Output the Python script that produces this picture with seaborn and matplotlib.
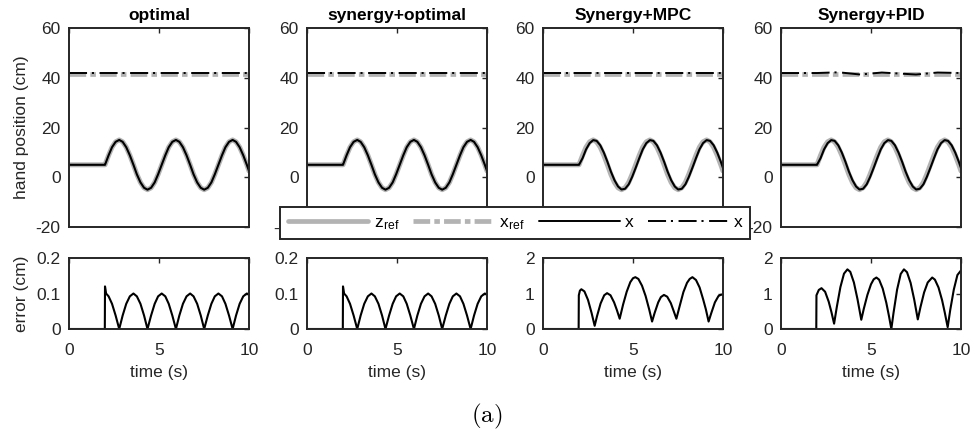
import matplotlib
matplotlib.use("Agg")
import matplotlib.pyplot as plt
from matplotlib.lines import Line2D
import seaborn as sns

# ---- data -------------------------------------------------------------
titles = ["optimal", "synergy+optimal", "Synergy+MPC", "Synergy+PID"]

# time samples for the hand-position traces (s)
t_pos = [0.0, 1.99, 2.00, 2.20, 2.39, 2.59, 2.79, 2.98, 3.18, 3.38, 3.58,
         3.77, 3.97, 4.17, 4.36, 4.56, 4.76, 4.95, 5.15, 5.35, 5.54, 5.74,
         5.94, 6.13, 6.33, 6.53, 6.73, 6.92, 7.12, 7.32, 7.51, 7.71, 7.91,
         8.10, 8.30, 8.50, 8.69, 8.89, 9.09, 9.28, 9.48, 9.68, 9.88, 10.0]

# reference trajectory along z (cm)
z_ref = [5.0, 5.0, 5.0, 8.83, 12.07, 14.24, 15.0, 14.24, 12.07, 8.83, 5.0,
         1.17, -2.07, -4.24, -5.0, -4.24, -2.07, 1.17, 5.0, 8.83, 12.07,
         14.24, 15.0, 14.24, 12.07, 8.83, 5.0, 1.17, -2.07, -4.24, -5.0,
         -4.24, -2.07, 1.17, 5.0, 8.83, 12.07, 14.24, 15.0, 14.24, 12.07,
         8.83, 5.0, 2.53]

# tracked hand position for the lagging controllers (cm)
x_lagged = [5.0, 5.0, 5.0, 7.69, 11.17, 13.71, 14.93, 14.63, 12.87, 9.91,
            6.2, 2.31, -1.17, -3.71, -4.93, -4.63, -2.87, 0.09, 3.8, 7.69,
            11.17, 13.71, 14.93, 14.63, 12.87, 9.91, 6.2, 2.31, -1.17, -3.71,
            -4.93, -4.63, -2.87, 0.09, 3.8, 7.69, 11.17, 13.71, 14.93, 14.63,
            12.87, 9.91, 6.2, 3.71]

# lateral reference and lateral hand position (cm)
x_ref_level = 41.5
t_lat = [0.0, 2.0, 3.2, 4.4, 5.6, 7.5, 8.7, 10.0]
x_lat_const = [41.9, 41.9, 41.9, 41.9, 41.9, 41.9, 41.9, 41.9]
x_lat_pid = [41.9, 41.9, 42.2, 41.3, 42.1, 41.3, 42.1, 41.9]

# tracking error, optimal controllers (cm)
t_err_opt = [0.0, 1.99, 2.00, 2.06, 2.20, 2.39, 2.59, 2.79, 2.98, 3.18, 3.38,
             3.58, 3.77, 3.97, 4.17, 4.36, 4.56, 4.76, 4.95, 5.15, 5.35,
             5.54, 5.74, 5.94, 6.13, 6.33, 6.53, 6.73, 6.92, 7.12, 7.32,
             7.51, 7.71, 7.91, 8.10, 8.30, 8.50, 8.69, 8.89, 9.09, 9.28,
             9.48, 9.68, 9.88, 10.0]
err_opt = [0.0, 0.0, 0.12, 0.1, 0.092, 0.071, 0.038, 0.0, 0.038, 0.071,
           0.092, 0.1, 0.092, 0.071, 0.038, 0.0, 0.038, 0.071, 0.092, 0.1,
           0.092, 0.071, 0.038, 0.0, 0.038, 0.071, 0.092, 0.1, 0.092, 0.071,
           0.038, 0.0, 0.038, 0.071, 0.092, 0.1, 0.092, 0.071, 0.038, 0.0,
           0.038, 0.071, 0.092, 0.1, 0.097]

# tracking error, MPC (cm)
t_err_mpc = [0.0, 1.98, 1.99, 2.05, 2.13, 2.3, 2.5, 2.7, 2.87, 3.0, 3.2, 3.4,
             3.56, 3.75, 3.95, 4.1, 4.26, 4.45, 4.65, 4.85, 5.0, 5.13, 5.3,
             5.5, 5.7, 5.9, 6.06, 6.2, 6.4, 6.55, 6.72, 6.9, 7.1, 7.25, 7.41,
             7.6, 7.8, 8.0, 8.15, 8.3, 8.5, 8.7, 8.9, 9.05, 9.2, 9.35, 9.55,
             9.75, 9.9, 10.0]
err_mpc = [0.0, 0.0, 0.95, 1.08, 1.12, 1.06, 0.82, 0.45, 0.09, 0.36, 0.72,
           0.95, 1.01, 0.95, 0.75, 0.54, 0.29, 0.69, 1.05, 1.32, 1.43, 1.46,
           1.41, 1.22, 0.93, 0.55, 0.21, 0.45, 0.75, 0.9, 0.96, 0.91, 0.73,
           0.52, 0.29, 0.66, 1.04, 1.30, 1.41, 1.46, 1.38, 1.17, 0.83, 0.55,
           0.21, 0.45, 0.75, 0.93, 0.97, 0.96]

# tracking error, PID (cm)
t_err_pid = [0.0, 1.96, 1.97, 2.1, 2.25, 2.45, 2.65, 2.8, 2.95, 3.1, 3.3, 3.5,
             3.69, 3.85, 4.05, 4.25, 4.46, 4.6, 4.8, 5.0, 5.15, 5.3, 5.45,
             5.65, 5.85, 6.0, 6.13, 6.25, 6.45, 6.65, 6.83, 7.0, 7.2, 7.4,
             7.6, 7.75, 7.95, 8.15, 8.4, 8.55, 8.75, 8.95, 9.1, 9.26, 9.4,
             9.6, 9.8, 10.0]
err_pid = [0.0, 0.0, 0.95, 1.1, 1.15, 1.05, 0.77, 0.48, 0.15, 0.62, 1.18,
           1.56, 1.68, 1.61, 1.31, 0.84, 0.26, 0.57, 0.96, 1.26, 1.40, 1.45,
           1.39, 1.14, 0.74, 0.36, 0.0, 0.45, 1.11, 1.55, 1.68, 1.6, 1.30,
           0.83, 0.27, 0.62, 1.03, 1.31, 1.45, 1.39, 1.17, 0.81, 0.46, 0.05,
           0.53, 1.11, 1.52, 1.65]

pos_tracked = [z_ref, z_ref, x_lagged, x_lagged]
lat_tracked = [x_lat_const, x_lat_const, x_lat_const, x_lat_pid]
err_series = [(t_err_opt, err_opt), (t_err_opt, err_opt),
              (t_err_mpc, err_mpc), (t_err_pid, err_pid)]
err_ylims = [(0, 0.2), (0, 0.2), (0, 2), (0, 2)]
err_ticks = [[0, 0.1, 0.2], [0, 0.1, 0.2], [0, 1, 2], [0, 1, 2]]
err_ticklabels = [["0", "0.1", "0.2"], ["0", "0.1", "0.2"],
                  ["0", "1", "2"], ["0", "1", "2"]]
pos_ticks = [-20, 0, 20, 40, 60]
time_ticks = [0, 5, 10]
legend_labels = [r"z$_{\mathregular{ref}}$", r"x$_{\mathregular{ref}}$", "x", "x"]

# ---- style ------------------------------------------------------------
sns.set_theme(style="white")
plt.rcParams["font.family"] = ["Liberation Sans", "DejaVu Sans"]
plt.rcParams["mathtext.fontset"] = "cm"
plt.rcParams["lines.scale_dashes"] = False

GRAY = "#b3b3b3"
INK = "#262626"
FS = 12.5
W, H = 974, 447
fig = plt.figure(figsize=(W / 100, H / 100), dpi=100)

lefts = [69, 307, 543, 781]
ax_w = 180
top_box = (28, 227)
err_box = (258, 329)

DASHDOT_GRAY = (0, (12, 3, 4, 3))
DASHDOT_BLACK = (0, (13, 3.5, 1.5, 4))


def frame(ax):
    for s in ax.spines.values():
        s.set_linewidth(1.4)
        s.set_color(INK)
    ax.tick_params(direction="in", length=3.5, width=1.0, top=True,
                   right=True, labelsize=FS, colors=INK)
    ax.tick_params(axis="y", pad=6)
    ax.tick_params(axis="x", pad=10)


for i in range(4):
    x0 = lefts[i] / W
    w = ax_w / W
    ax = fig.add_axes([x0, 1 - top_box[1] / H, w, (top_box[1] - top_box[0]) / H])
    ax2 = fig.add_axes([x0, 1 - err_box[1] / H, w, (err_box[1] - err_box[0]) / H])

    # lateral reference and lateral hand position
    sns.lineplot(x=[0, 10], y=[x_ref_level, x_ref_level], ax=ax, color=GRAY,
                 lw=3.4, estimator=None, sort=False)
    ax.lines[-1].set_linestyle(DASHDOT_GRAY)
    sns.lineplot(x=t_lat, y=lat_tracked[i], ax=ax, color="black", lw=1.4,
                 estimator=None, sort=False)
    ax.lines[-1].set_linestyle(DASHDOT_BLACK)

    # z reference and tracked position
    sns.lineplot(x=t_pos, y=z_ref, ax=ax, color=GRAY, lw=3.6,
                 estimator=None, sort=False)
    sns.lineplot(x=t_pos, y=pos_tracked[i], ax=ax, color="black", lw=1.5,
                 estimator=None, sort=False)

    ax.set_xlim(0, 10)
    ax.set_ylim(-20, 60)
    ax.set_yticks(pos_ticks)
    ax.set_yticklabels([str(v) for v in pos_ticks])
    ax.set_xticks(time_ticks)
    ax.set_xticklabels([])
    ax.set_title(titles[i], fontsize=FS, fontweight="bold", pad=6,
                 color="black")
    frame(ax)

    te, ve = err_series[i]
    sns.lineplot(x=te, y=ve, ax=ax2, color="black", lw=1.5,
                 estimator=None, sort=False)
    ax2.set_xlim(0, 10)
    ax2.set_ylim(*err_ylims[i])
    ax2.set_yticks(err_ticks[i])
    ax2.set_yticklabels(err_ticklabels[i])
    ax2.set_xticks(time_ticks)
    ax2.set_xticklabels([str(v) for v in time_ticks])
    ax2.set_xlabel("time (s)", fontsize=FS, color=INK, labelpad=5)
    frame(ax2)

    if i == 0:
        ax.set_ylabel("hand position (cm)", fontsize=FS, color=INK)
        ax.yaxis.set_label_coords(-40 / ax_w, 0.5)
        ax2.set_ylabel("error (cm)", fontsize=FS, color=INK)
        ax2.yaxis.set_label_coords(-40 / ax_w, 0.5)
    else:
        ax.set_ylabel("")
        ax2.set_ylabel("")

# shared legend across the top row
handles = [
    Line2D([], [], color=GRAY, lw=3.4),
    Line2D([], [], color=GRAY, lw=3.4, linestyle=DASHDOT_GRAY),
    Line2D([], [], color="black", lw=1.4),
    Line2D([], [], color="black", lw=1.4, linestyle=DASHDOT_BLACK),
]
leg = fig.legend(handles, legend_labels, loc="center", ncol=4,
                 bbox_to_anchor=(515 / W, 1 - 223 / H), fontsize=FS,
                 handlelength=4.65, handletextpad=0.3, columnspacing=0.8,
                 borderpad=0.45, borderaxespad=0, frameon=True,
                 fancybox=False, framealpha=1)
leg.get_frame().set_edgecolor(INK)
leg.get_frame().set_linewidth(1.4)
for txt in leg.get_texts():
    txt.set_color("black")

fig.text(487 / W, 1 - 416 / H, r"$\mathrm{(a)}$", ha="center", va="center",
         fontsize=18, color="black")

fig.savefig("out.png", dpi=100)
